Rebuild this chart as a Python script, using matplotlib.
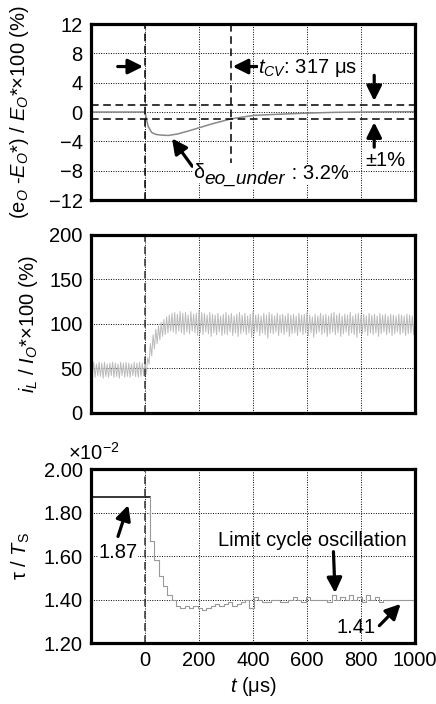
import numpy as np
import matplotlib
matplotlib.use('Agg')
import matplotlib.pyplot as plt

plt.rcParams['font.family'] = ['Liberation Sans', 'DejaVu Sans']
plt.rcParams['mathtext.fontset'] = 'custom'
plt.rcParams['mathtext.rm'] = 'Liberation Sans'
plt.rcParams['mathtext.it'] = 'Liberation Sans:italic'
plt.rcParams['mathtext.bf'] = 'Liberation Sans:bold'

# --- data ---
# output voltage error (%)
eo_t = [-200, 0, 5, 12, 25, 40, 60, 87, 120, 160, 200, 250, 317, 360, 405, 500, 600, 700, 800, 1000]
eo_err = [0, 0, -0.9, -2.0, -2.8, -3.05, -3.15, -3.2, -3.0, -2.6, -2.15, -1.6, -0.95, -0.7, -0.45, -0.3, -0.15, -0.05, 0, 0.05]

# inductor current ripple: peaks every 10 us from -200, troughs in between
il_peak = [56, 57, 55, 57, 56, 57, 55, 56, 57, 56, 55, 57, 56, 57, 56, 55, 57, 56, 57, 56, 57,
           62, 78, 88, 94, 98, 102, 105, 108, 110, 112,
           113, 111, 114, 112, 113, 110, 114, 111, 112, 116,
           113, 112, 110, 113, 111, 110, 112, 109, 111, 113,
           110, 112, 109, 111, 113, 110, 112, 109, 111, 114,
           110, 111, 109, 112, 110, 113, 111, 109, 112, 110,
           111, 109, 112, 110, 111, 109, 112, 110, 111, 113,
           110, 108, 111, 109, 112, 110, 111, 109, 112, 113,
           110, 112, 109, 111, 110, 113, 109, 111, 112, 110,
           111, 109, 112, 110, 111, 109, 112, 110, 111, 109,
           111, 110, 109, 111, 110, 109, 111, 110, 109, 108]
il_trough = [41, 40, 42, 41, 39, 41, 40, 42, 40, 41, 39, 42, 40, 41, 40, 42, 41, 40, 41, 42,
             44, 55, 64, 72, 78, 82, 86, 88, 90, 92,
             91, 89, 92, 90, 88, 91, 89, 92, 90, 87,
             90, 88, 91, 89, 86, 90, 88, 91, 87, 89,
             88, 91, 87, 90, 86, 89, 91, 88, 90, 85,
             89, 91, 87, 90, 88, 84, 90, 89, 91, 87,
             90, 88, 91, 86, 89, 90, 87, 91, 88, 90,
             87, 90, 85, 89, 91, 88, 90, 86, 89, 91,
             88, 90, 86, 89, 91, 87, 90, 88, 85, 90,
             89, 91, 87, 90, 88, 90, 86, 89, 91, 88,
             90, 87, 89, 91, 88, 90, 87, 89, 90, 88]

# tau / Ts (x 1e-2), step values
tau_t = [-200] + list(range(19, 1000, 16))
tau_val = [1.87,
           1.67, 1.58, 1.51, 1.46, 1.42, 1.40,
           1.37, 1.36, 1.37, 1.36, 1.37, 1.36, 1.35, 1.36, 1.37, 1.38,
           1.37, 1.38, 1.39, 1.37, 1.38, 1.39, 1.40, 1.36, 1.41, 1.40,
           1.39, 1.39, 1.40, 1.40, 1.39, 1.39, 1.40, 1.41, 1.40, 1.39,
           1.41, 1.40, 1.40, 1.40, 1.40, 1.39, 1.42, 1.40, 1.41, 1.40,
           1.42, 1.40, 1.41, 1.39, 1.42, 1.40, 1.41, 1.39, 1.40, 1.40,
           1.40, 1.40, 1.40, 1.40, 1.40, 1.40]

t_ticks = [0, 200, 400, 600, 800, 1000]

fig = plt.figure(figsize=(4.36, 7.04), dpi=100)
ax1 = fig.add_axes([0.2087, 0.7159, 0.7431, 0.25])
ax2 = fig.add_axes([0.2087, 0.4134, 0.7431, 0.2528])
ax3 = fig.add_axes([0.2087, 0.0866, 0.7431, 0.2472])

FS = 14.5
arrow = dict(arrowstyle='-|>,head_length=0.6,head_width=0.3', lw=2.3, color='k',
             mutation_scale=15, shrinkA=0, shrinkB=0)
white = dict(facecolor='white', edgecolor='none', pad=0.5)

for ax in (ax1, ax2, ax3):
    ax.set_xlim(-200, 1000)
    ax.set_xticks(t_ticks)
    ax.grid(True, color='k', linestyle=(0, (1, 1.5)), linewidth=0.7)
    ax.tick_params(length=0, labelsize=FS, pad=6)
    for s in ax.spines.values():
        s.set_linewidth(2.3)

# panel 1
ax1.set_ylim(-12, 12)
ax1.set_yticks([-12, -8, -4, 0, 4, 8, 12])
ax1.set_xticklabels([])
ax1.plot(eo_t, eo_err, color='#888888', lw=1.1)
ax1.axhline(1, color='k', ls=(0, (5, 3)), lw=1.1)
ax1.axhline(-1, color='k', ls=(0, (5, 3)), lw=1.1)
ax1.axvline(0, color='k', ls=(0, (5, 3)), lw=1.1)
ax1.plot([317, 317], [12, -7], color='k', ls=(0, (5, 3)), lw=1.1)
ax1.annotate('', xy=(-7, 6.2), xytext=(-101, 6.2), arrowprops=arrow)
ax1.annotate('', xy=(325, 6.2), xytext=(415, 6.2), arrowprops=arrow)
ax1.text(420, 6.0, r'$t_{CV}$: 317 μs', fontsize=FS, va='center', ha='left', bbox=white)
ax1.annotate('', xy=(849, 1.5), xytext=(849, 5.0), arrowprops=arrow)
ax1.annotate('', xy=(849, -1.4), xytext=(849, -4.8), arrowprops=arrow)
ax1.text(818, -6.6, '±1%', fontsize=FS, va='center', ha='left', bbox=white)
ax1.annotate('', xy=(100, -3.6), xytext=(175, -7.4), arrowprops=arrow)
d1 = ax1.text(180, -8.3, 'δ', fontsize=FS, va='center', ha='left', bbox=white)
d2 = ax1.annotate('eo_under', xy=(1, 0.15), xycoords=d1, fontsize=FS * 0.95, style='italic',
                  va='center', ha='left', bbox=white)
ax1.annotate(' : 3.2%', xy=(1, 0.45), xycoords=(d2, d1), fontsize=FS,
             va='center', ha='left', bbox=white)
ax1.set_ylabel(r'(e$_O$ -$E_O$*) / $E_O$*×100 (%)', fontsize=FS, labelpad=13)

# panel 2
ax2.set_ylim(0, 200)
ax2.set_yticks([0, 50, 100, 150, 200])
ax2.set_xticklabels([])
t_peak = np.arange(-200, 1001, 10)
il_t = np.empty(len(il_peak) + len(il_trough))
il_v = np.empty_like(il_t)
il_t[0::2] = t_peak
il_t[1::2] = t_peak[:-1] + 5
il_v[0::2] = il_peak
il_v[1::2] = il_trough
ax2.plot(il_t, il_v, color='#bbbbbb', lw=0.7)
ax2.axvline(0, color='#333333', ls=(0, (5, 3)), lw=1.1)
ax2.set_ylabel(r'$i_L$ / $I_O$*×100 (%)', fontsize=FS, labelpad=7)

# panel 3
ax3.set_ylim(1.20, 2.00)
ax3.set_yticks([1.20, 1.40, 1.60, 1.80, 2.00])
ax3.set_yticklabels(['%.2f' % v for v in [1.20, 1.40, 1.60, 1.80, 2.00]])
ax3.step(tau_t[1:] + [1000], tau_val[1:] + [tau_val[-1]], where='post', color='#999999', lw=0.8)
ax3.plot([tau_t[0], tau_t[1]], [tau_val[0], tau_val[0]], color='k', lw=1.1)
ax3.plot([tau_t[1], tau_t[1]], [tau_val[0], tau_val[1]], color='#999999', lw=0.8)
ax3.axvline(0, color='#333333', ls=(0, (5, 3)), lw=1.1)
ax3.text(-100, 1.614, '1.87', fontsize=FS, ha='center', va='center', bbox=white)
ax3.annotate('', xy=(-62, 1.834), xytext=(-100, 1.69), arrowprops=arrow)
ax3.text(620, 1.67, 'Limit cycle oscillation', fontsize=FS, ha='center', va='center')
ax3.annotate('', xy=(704, 1.43), xytext=(698, 1.62), arrowprops=arrow)
ax3.text(780, 1.27, '1.41', fontsize=FS, ha='center', va='center')
ax3.annotate('', xy=(947, 1.38), xytext=(868, 1.28), arrowprops=arrow)
ax3.text(-0.07, 1.03, r'×10$^{-2}$', transform=ax3.transAxes, fontsize=FS, ha='left', va='bottom')
ax3.set_ylabel(r'τ / $T_{\rm S}$', fontsize=FS, labelpad=8)
ax3.set_xlabel(r'$t$ (μs)', fontsize=FS, labelpad=3)

fig.savefig('out.png', dpi=100)
